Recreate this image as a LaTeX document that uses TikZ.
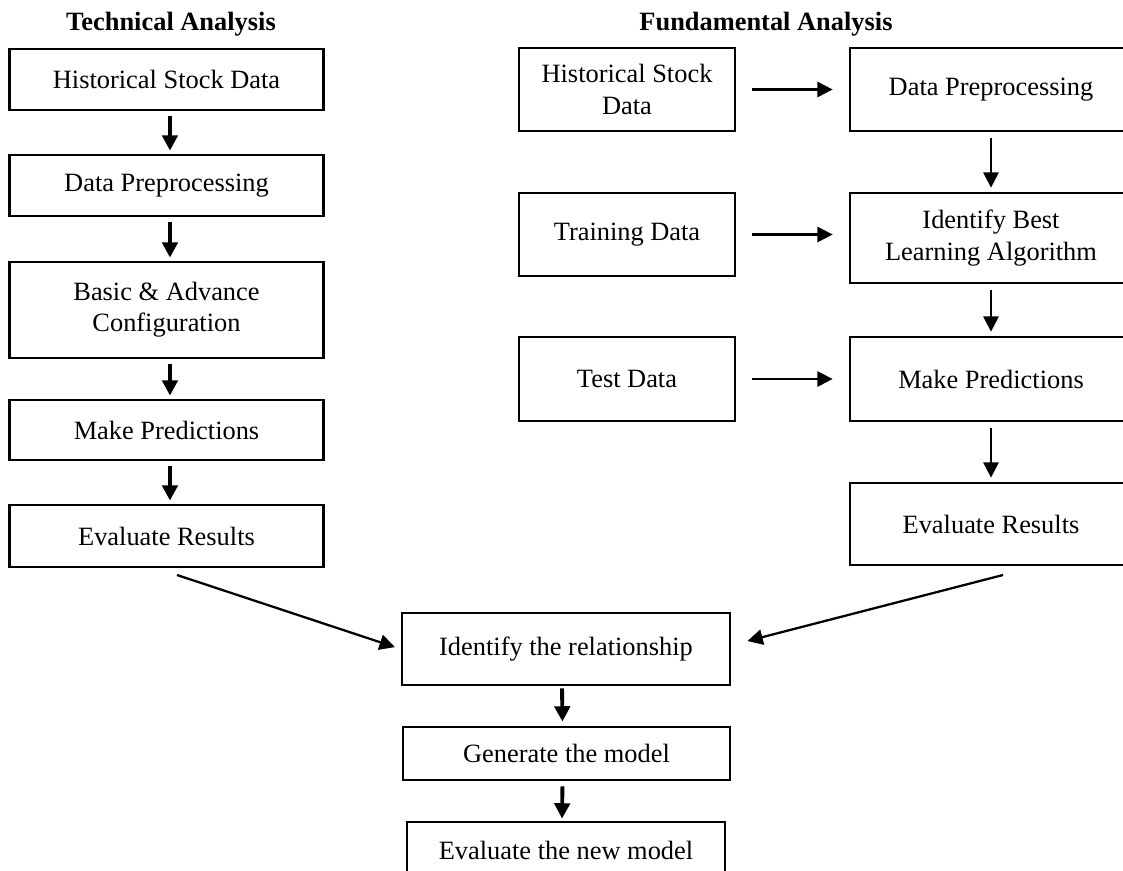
\documentclass[tikz,border=0pt]{standalone}
\usepackage{fontspec}
\setmainfont{Liberation Serif}
\usetikzlibrary{arrows.meta, positioning, calc}

\begin{document}
\begin{tikzpicture}[x=0.75pt, y=-0.75pt,
  box/.style={draw=black, line width=2.1pt, fill=white, align=center,
    inner sep=2pt, font=\fontsize{19.8pt}{23.5pt}\selectfont},
  tbox/.style={box, minimum width=236pt},
  sbox/.style={box, minimum width=162pt, minimum height=62.25pt},
  fbox/.style={box, minimum width=211.5pt},
  title/.style={font=\fontsize{19.8pt}{23.5pt}\selectfont\bfseries},
  arrow/.style={-{Triangle[length=11.5pt, width=11.5pt]}, line width=2.9pt},
  thinarrow/.style={-{Triangle[length=11.5pt, width=11.5pt]}, line width=1.7pt}]
  \path[use as bounding box, clip] (0,0) rectangle (1123,870);

  \node[title] (ta) at (171,24) {Technical Analysis};
  \node[title] (fa) at (766,24) {Fundamental Analysis};

  % technical analysis
  \node[tbox, minimum height=45.75pt] (t1) at (166.5,79.5) {Historical Stock Data};
  \node[tbox, minimum height=45.75pt] (t2) at (166.5,185.5) {Data Preprocessing};
  \node[tbox, minimum height=72pt] (t3) at (166.5,310) {Basic \& Advance\\Configuration};
  \node[tbox, minimum height=45pt] (t4) at (166.5,430) {Make Predictions};
  \node[tbox, minimum height=46.5pt] (t5) at (166.5,536) {Evaluate Results};
  \foreach \a/\b in {t1/t2, t2/t3, t3/t4, t4/t5}
    \draw[arrow, shorten <=3.75pt, shorten >=2.25pt]
      ([xshift=2.6pt]\a.south) -- ([xshift=2.6pt]\b.north);

  % fundamental analysis
  \node[sbox] (s1) at (627,89.5) {Historical Stock\\Data};
  \node[sbox] (s2) at (627,234.5) {Training Data};
  \node[sbox, minimum height=63pt] (s3) at (627,379) {Test Data};
  \node[fbox, minimum height=62.25pt] (f1) at (991,89.5) {Data Preprocessing};
  \node[fbox, minimum height=67.5pt] (f2) at (991,238) {Identify Best\\Learning Algorithm};
  \node[fbox, minimum height=63pt] (f3) at (991,379) {Make Predictions};
  \node[fbox, minimum height=61.5pt] (f4) at (991,524) {Evaluate Results};
  \foreach \a/\b in {f1/f2, f2/f3, f3/f4}
    \draw[thinarrow, shorten <=4.5pt, shorten >=3pt] (\a) -- (\b);
  \draw[thinarrow, shorten <=12pt, shorten >=12pt] (s1) -- (s1 -| f1.west);
  \draw[thinarrow, shorten <=12pt, shorten >=12pt] (s2) -- (s2 -| f2.west);
  \draw[thinarrow, shorten <=12pt, shorten >=12pt] (s3) -- (s3 -| f3.west);

  % combined model
  \node[box, minimum width=246pt, minimum height=54pt] (rel) at (566,649) {Identify the relationship};
  \node[box, minimum width=245.25pt, minimum height=39.75pt] (gen) at (566.5,753.5) {Generate the model};
  \node[box, minimum width=238.5pt, minimum height=42pt] (new) at (566,850) {Evaluate the new model};
  \draw[arrow, shorten <=1.5pt, shorten >=3pt] ([xshift=-3pt]rel.south) -- ([xshift=-3pt]gen.north);
  \draw[arrow, shorten <=3.75pt, shorten >=1.5pt] ([xshift=-3pt]gen.south) -- ([xshift=-3pt]new.north);

  \coordinate (tend) at (177,575);
  \coordinate (fend) at (1003,575);
  \draw[thinarrow, shorten >=4.5pt] (tend) -- (rel.west);
  \draw[thinarrow] (fend) -- ($(rel.east)+(16,-8)$);
\end{tikzpicture}
\end{document}
